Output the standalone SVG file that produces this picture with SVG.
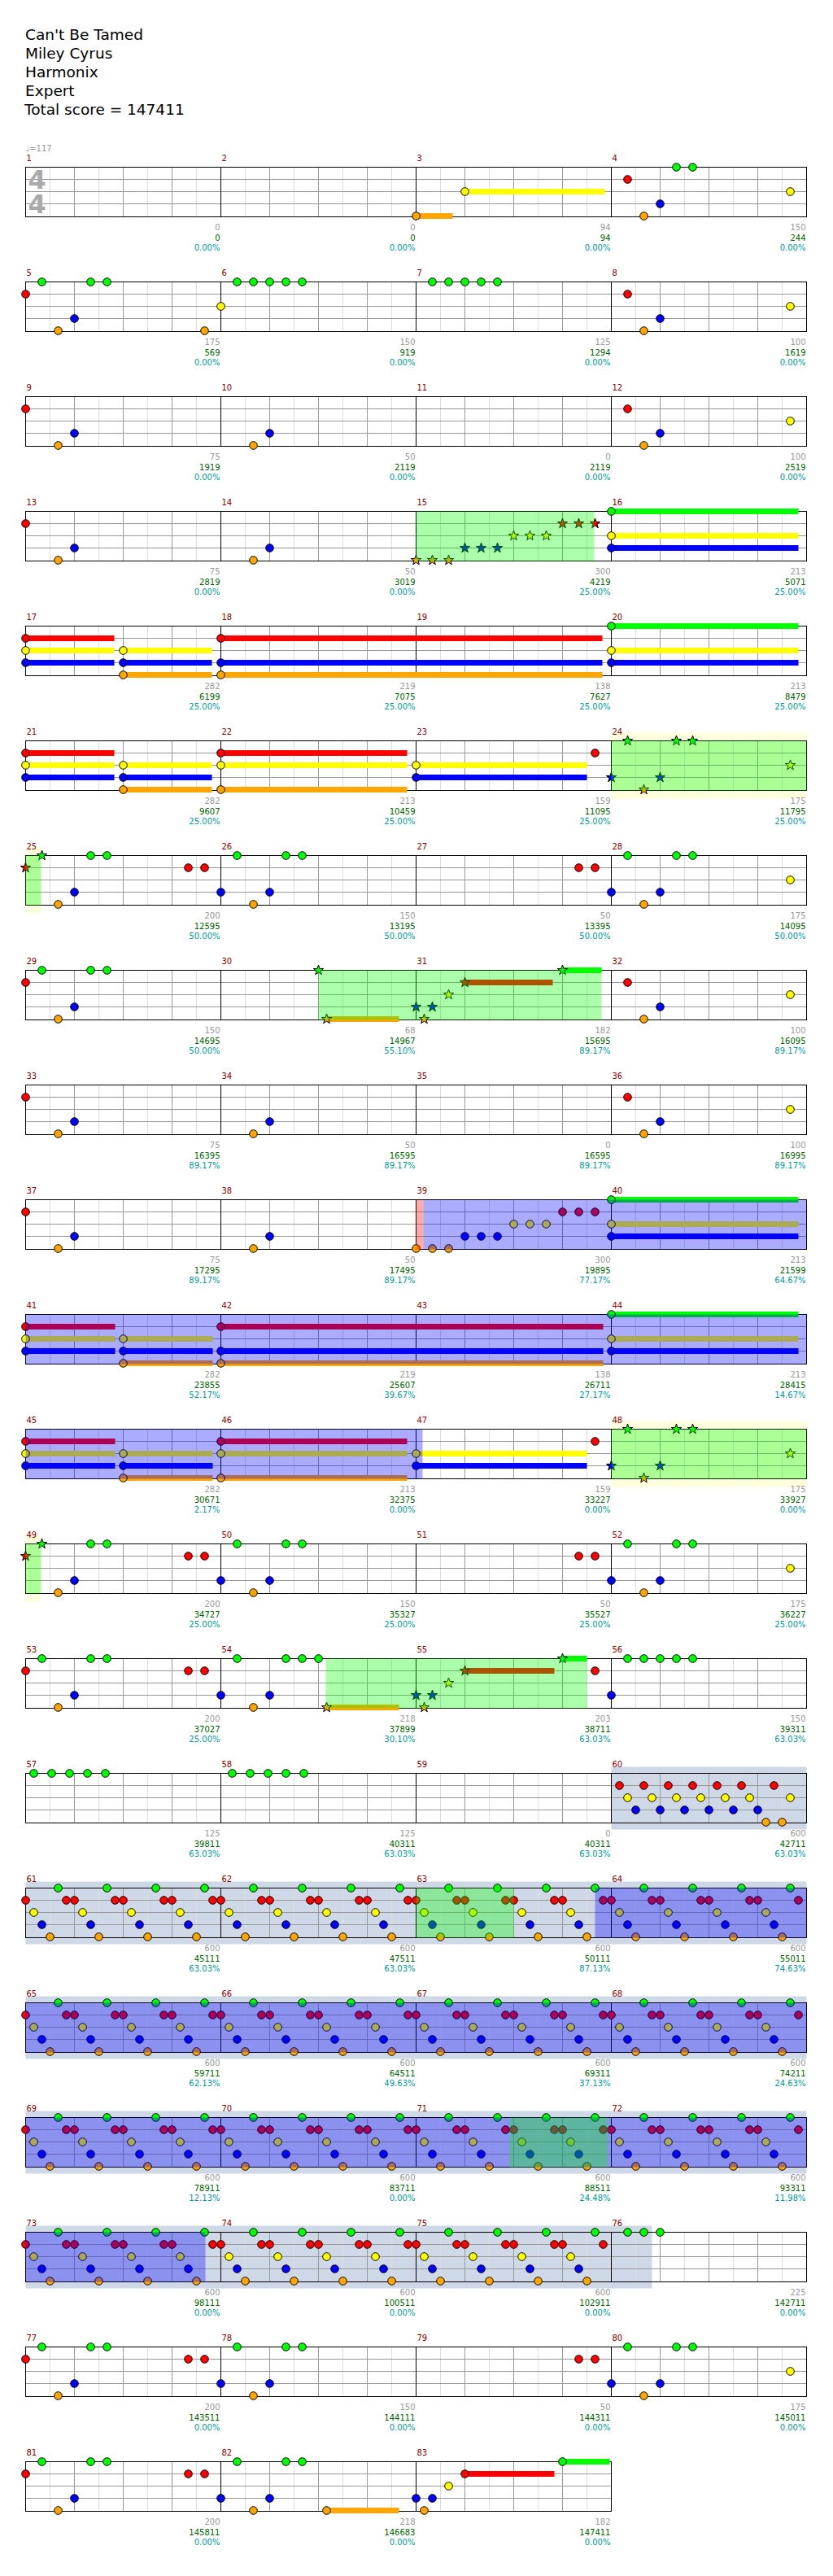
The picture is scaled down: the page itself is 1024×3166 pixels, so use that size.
<svg xmlns="http://www.w3.org/2000/svg" width="1024" height="3166" viewBox="0 0 1024 3166">
<style>
text{font-family:"DejaVu Sans","Liberation Sans",sans-serif}
.ti{font-size:18.5px;fill:#000}
.mn{font-size:10px;fill:#8b0000}
.a,.b,.c{font-size:10px;text-anchor:end}
.a{fill:#999}.b{fill:#006400}.c{fill:#009999}
.tm{font-size:10px;fill:#999}
.ts{font-size:32px;font-weight:bold;fill:#aaa}
.G{fill:#00ff00}.R{fill:#ff0000}.Y{fill:#ffff00}.B{fill:#0000ff}.O{fill:#ffa500}
.vg{fill:#00ff00;fill-opacity:.33}.vb{fill:#0000ff;fill-opacity:.33}.vr{fill:#ff0000;fill-opacity:.33}
.band{fill:#ffffdd}.sol{fill:#cfd8e6}
</style>
<defs>
<circle id="nG" r="4.8" fill="#00ff00" stroke="#000"/>
<circle id="nR" cy="15" r="4.8" fill="#ff0000" stroke="#000"/>
<circle id="nY" cy="30" r="4.8" fill="#ffff00" stroke="#000"/>
<circle id="nB" cy="45" r="4.8" fill="#0000ff" stroke="#000"/>
<circle id="nO" cy="60" r="4.8" fill="#ffa500" stroke="#000"/>
<path id="st" d="M0,-6.5 L1.53,-2.1 L6.18,-2.01 L2.47,0.8 L3.82,5.26 L0,2.6 L-3.82,5.26 L-2.47,0.8 L-6.18,-2.01 L-1.53,-2.1 Z" stroke="#000" stroke-width="1"/>
<use id="sG" href="#st" fill="#00ff00"/>
<use id="sR" href="#st" y="15" fill="#ff0000"/>
<use id="sY" href="#st" y="30" fill="#ffff00"/>
<use id="sB" href="#st" y="45" fill="#0000ff"/>
<use id="sO" href="#st" y="60" fill="#ffa500"/>
<g id="staff4" fill="none">
<path stroke="#ddd" d="M61 0V61M121 0V61M181 0V61M241 0V61M301 0V61M361 0V61M421 0V61M481 0V61M541 0V61M601 0V61M661 0V61M721 0V61M781 0V61M841 0V61M901 0V61M961 0V61"/>
<path stroke="#999" d="M91 0V61M151 0V61M211 0V61M331 0V61M391 0V61M451 0V61M571 0V61M631 0V61M691 0V61M811 0V61M871 0V61M931 0V61M31 15H991M31 30H991M31 45H991"/>
<path stroke="#000" d="M271 0V61M511 0V61M751 0V61"/>
<rect x="31" y="0" width="960" height="61" stroke="#000"/>
</g>
<g id="staff3" fill="none">
<path stroke="#ddd" d="M61 0V61M121 0V61M181 0V61M241 0V61M301 0V61M361 0V61M421 0V61M481 0V61M541 0V61M601 0V61M661 0V61M721 0V61"/>
<path stroke="#999" d="M91 0V61M151 0V61M211 0V61M331 0V61M391 0V61M451 0V61M571 0V61M631 0V61M691 0V61M31 15H751M31 30H751M31 45H751"/>
<path stroke="#000" d="M271 0V61M511 0V61"/>
<rect x="31" y="0" width="720" height="61" stroke="#000"/>
</g>
<g id="beat">
<use href="#nR" x="0"/><use href="#nY" x="10"/><use href="#nB" x="20"/><use href="#nO" x="30"/><use href="#nG" x="40"/><use href="#nR" x="50"/>
</g>
<g id="beat2">
<use href="#nR" x="0"/><use href="#nY" x="10"/><use href="#nB" x="20"/><use href="#nR" x="30"/><use href="#nY" x="40"/><use href="#nB" x="50"/>
</g>
</defs>
<rect width="1024" height="3166" fill="#fff"/>
<g id="title">
<text class="ti" x="31" y="49">Can't Be Tamed</text>
<text class="ti" x="31" y="72">Miley Cyrus</text>
<text class="ti" x="31" y="95">Harmonix</text>
<text class="ti" x="31" y="118">Expert</text>
<text class="ti" x="30" y="141">Total score = 147411</text>
</g>

<g id="row0" transform="translate(0.5,205.5)">
<use href="#staff4"/>
<text class="tm" x="31" y="-20">♩=117</text>
<text class="ts" x="34" y="26">4</text><text class="ts" x="34" y="56">4</text>
<rect class="O" x="511" y="56.5" width="45" height="7"/>
<rect class="Y" x="571" y="26.5" width="172" height="7"/>
<use href="#nO" x="511"/><use href="#nY" x="571"/>
<use href="#nR" x="771"/><use href="#nO" x="791"/><use href="#nB" x="811"/><use href="#nG" x="831"/><use href="#nG" x="851"/><use href="#nY" x="971"/>
<text class="mn" x="32" y="-8">1</text><text class="mn" x="272" y="-8">2</text><text class="mn" x="512" y="-8">3</text><text class="mn" x="752" y="-8">4</text>
<text class="a" x="270" y="77">0</text><text class="b" x="270" y="90">0</text><text class="c" x="270" y="102">0.00%</text>
<text class="a" x="510" y="77">0</text><text class="b" x="510" y="90">0</text><text class="c" x="510" y="102">0.00%</text>
<text class="a" x="750" y="77">94</text><text class="b" x="750" y="90">94</text><text class="c" x="750" y="102">0.00%</text>
<text class="a" x="990" y="77">150</text><text class="b" x="990" y="90">244</text><text class="c" x="990" y="102">0.00%</text>
</g>

<g id="row1" transform="translate(0.5,346.5)">
<use href="#staff4"/>
<use href="#nR" x="31"/><use href="#nG" x="51"/><use href="#nO" x="71"/><use href="#nB" x="91"/><use href="#nG" x="111"/><use href="#nG" x="131"/><use href="#nO" x="251"/>
<use href="#nY" x="271"/><use href="#nG" x="291"/><use href="#nG" x="311"/><use href="#nG" x="331"/><use href="#nG" x="351"/><use href="#nG" x="371"/>
<use href="#nG" x="531"/><use href="#nG" x="551"/><use href="#nG" x="571"/><use href="#nG" x="591"/><use href="#nG" x="611"/>
<use href="#nR" x="771"/><use href="#nO" x="791"/><use href="#nB" x="811"/><use href="#nY" x="971"/>
<text class="mn" x="32" y="-8">5</text><text class="mn" x="272" y="-8">6</text><text class="mn" x="512" y="-8">7</text><text class="mn" x="752" y="-8">8</text>
<text class="a" x="270" y="77">175</text><text class="b" x="270" y="90">569</text><text class="c" x="270" y="102">0.00%</text>
<text class="a" x="510" y="77">150</text><text class="b" x="510" y="90">919</text><text class="c" x="510" y="102">0.00%</text>
<text class="a" x="750" y="77">125</text><text class="b" x="750" y="90">1294</text><text class="c" x="750" y="102">0.00%</text>
<text class="a" x="990" y="77">100</text><text class="b" x="990" y="90">1619</text><text class="c" x="990" y="102">0.00%</text>
</g>

<g id="row2" transform="translate(0.5,487.5)">
<use href="#staff4"/>
<use href="#nR" x="31"/><use href="#nO" x="71"/><use href="#nB" x="91"/>
<use href="#nO" x="311"/><use href="#nB" x="331"/>
<use href="#nR" x="771"/><use href="#nO" x="791"/><use href="#nB" x="811"/><use href="#nY" x="971"/>
<text class="mn" x="32" y="-8">9</text><text class="mn" x="272" y="-8">10</text><text class="mn" x="512" y="-8">11</text><text class="mn" x="752" y="-8">12</text>
<text class="a" x="270" y="77">75</text><text class="b" x="270" y="90">1919</text><text class="c" x="270" y="102">0.00%</text>
<text class="a" x="510" y="77">50</text><text class="b" x="510" y="90">2119</text><text class="c" x="510" y="102">0.00%</text>
<text class="a" x="750" y="77">0</text><text class="b" x="750" y="90">2119</text><text class="c" x="750" y="102">0.00%</text>
<text class="a" x="990" y="77">100</text><text class="b" x="990" y="90">2519</text><text class="c" x="990" y="102">0.00%</text>
</g>

<g id="row3" transform="translate(0.5,628.5)">
<use href="#staff4"/>
<use href="#nR" x="31"/><use href="#nO" x="71"/><use href="#nB" x="91"/>
<use href="#nO" x="311"/><use href="#nB" x="331"/>
<use href="#sO" x="511"/><use href="#sO" x="531"/><use href="#sO" x="551"/><use href="#sB" x="571"/><use href="#sB" x="591"/><use href="#sB" x="611"/><use href="#sY" x="631"/><use href="#sY" x="651"/><use href="#sY" x="671"/><use href="#sR" x="691"/><use href="#sR" x="711"/><use href="#sR" x="731"/>
<rect class="G" x="751" y="-3.5" width="230" height="7"/><rect class="Y" x="751" y="26.5" width="230" height="7"/><rect class="B" x="751" y="41.5" width="230" height="7"/>
<use href="#nG" x="751"/><use href="#nY" x="751"/><use href="#nB" x="751"/>
<rect class="vg" x="511" y="0" width="219" height="61"/>
<text class="mn" x="32" y="-8">13</text><text class="mn" x="272" y="-8">14</text><text class="mn" x="512" y="-8">15</text><text class="mn" x="752" y="-8">16</text>
<text class="a" x="270" y="77">75</text><text class="b" x="270" y="90">2819</text><text class="c" x="270" y="102">0.00%</text>
<text class="a" x="510" y="77">50</text><text class="b" x="510" y="90">3019</text><text class="c" x="510" y="102">0.00%</text>
<text class="a" x="750" y="77">300</text><text class="b" x="750" y="90">4219</text><text class="c" x="750" y="102">25.00%</text>
<text class="a" x="990" y="77">213</text><text class="b" x="990" y="90">5071</text><text class="c" x="990" y="102">25.00%</text>
</g>

<g id="row4" transform="translate(0.5,769.5)">
<use href="#staff4"/>
<rect class="R" x="31" y="11.5" width="109" height="7"/><rect class="Y" x="31" y="26.5" width="109" height="7"/><rect class="B" x="31" y="41.5" width="109" height="7"/>
<rect class="Y" x="151" y="26.5" width="109" height="7"/><rect class="B" x="151" y="41.5" width="109" height="7"/><rect class="O" x="151" y="56.5" width="109" height="7"/>
<rect class="R" x="271" y="11.5" width="469" height="7"/><rect class="B" x="271" y="41.5" width="469" height="7"/><rect class="O" x="271" y="56.5" width="469" height="7"/>
<rect class="G" x="751" y="-3.5" width="230" height="7"/><rect class="Y" x="751" y="26.5" width="230" height="7"/><rect class="B" x="751" y="41.5" width="230" height="7"/>
<use href="#nR" x="31"/><use href="#nY" x="31"/><use href="#nB" x="31"/>
<use href="#nY" x="151"/><use href="#nB" x="151"/><use href="#nO" x="151"/>
<use href="#nR" x="271"/><use href="#nB" x="271"/><use href="#nO" x="271"/>
<use href="#nG" x="751"/><use href="#nY" x="751"/><use href="#nB" x="751"/>
<text class="mn" x="32" y="-8">17</text><text class="mn" x="272" y="-8">18</text><text class="mn" x="512" y="-8">19</text><text class="mn" x="752" y="-8">20</text>
<text class="a" x="270" y="77">282</text><text class="b" x="270" y="90">6199</text><text class="c" x="270" y="102">25.00%</text>
<text class="a" x="510" y="77">219</text><text class="b" x="510" y="90">7075</text><text class="c" x="510" y="102">25.00%</text>
<text class="a" x="750" y="77">138</text><text class="b" x="750" y="90">7627</text><text class="c" x="750" y="102">25.00%</text>
<text class="a" x="990" y="77">213</text><text class="b" x="990" y="90">8479</text><text class="c" x="990" y="102">25.00%</text>
</g>

<g id="row5" transform="translate(0.5,910.5)">
<rect class="band" x="751" y="-10" width="240" height="81"/>
<use href="#staff4"/>
<rect class="R" x="31" y="11.5" width="109" height="7"/><rect class="Y" x="31" y="26.5" width="109" height="7"/><rect class="B" x="31" y="41.5" width="109" height="7"/>
<rect class="Y" x="151" y="26.5" width="109" height="7"/><rect class="B" x="151" y="41.5" width="109" height="7"/><rect class="O" x="151" y="56.5" width="109" height="7"/>
<rect class="R" x="271" y="11.5" width="229" height="7"/><rect class="Y" x="271" y="26.5" width="229" height="7"/><rect class="O" x="271" y="56.5" width="229" height="7"/>
<rect class="Y" x="511" y="26.5" width="210" height="7"/><rect class="B" x="511" y="41.5" width="210" height="7"/>
<use href="#nR" x="31"/><use href="#nY" x="31"/><use href="#nB" x="31"/>
<use href="#nY" x="151"/><use href="#nB" x="151"/><use href="#nO" x="151"/>
<use href="#nR" x="271"/><use href="#nY" x="271"/><use href="#nO" x="271"/>
<use href="#nY" x="511"/><use href="#nB" x="511"/><use href="#nR" x="731"/>
<use href="#sB" x="751"/><use href="#sG" x="771"/><use href="#sO" x="791"/><use href="#sB" x="811"/><use href="#sG" x="831"/><use href="#sG" x="851"/><use href="#sY" x="971"/>
<rect class="vg" x="751" y="0" width="240" height="61"/>
<text class="mn" x="32" y="-8">21</text><text class="mn" x="272" y="-8">22</text><text class="mn" x="512" y="-8">23</text><text class="mn" x="752" y="-8">24</text>
<text class="a" x="270" y="77">282</text><text class="b" x="270" y="90">9607</text><text class="c" x="270" y="102">25.00%</text>
<text class="a" x="510" y="77">213</text><text class="b" x="510" y="90">10459</text><text class="c" x="510" y="102">25.00%</text>
<text class="a" x="750" y="77">159</text><text class="b" x="750" y="90">11095</text><text class="c" x="750" y="102">25.00%</text>
<text class="a" x="990" y="77">175</text><text class="b" x="990" y="90">11795</text><text class="c" x="990" y="102">25.00%</text>
</g>

<g id="row6" transform="translate(0.5,1051.5)">
<rect class="band" x="31" y="-10" width="19" height="81"/>
<use href="#staff4"/>
<use href="#sR" x="31"/><use href="#sG" x="51"/><use href="#nO" x="71"/><use href="#nB" x="91"/><use href="#nG" x="111"/><use href="#nG" x="131"/><use href="#nR" x="231"/><use href="#nR" x="251"/>
<use href="#nB" x="271"/><use href="#nG" x="291"/><use href="#nO" x="311"/><use href="#nB" x="331"/><use href="#nG" x="351"/><use href="#nG" x="371"/>
<use href="#nR" x="711"/><use href="#nR" x="731"/>
<use href="#nB" x="751"/><use href="#nG" x="771"/><use href="#nO" x="791"/><use href="#nB" x="811"/><use href="#nG" x="831"/><use href="#nG" x="851"/><use href="#nY" x="971"/>
<rect class="vg" x="31" y="0" width="19" height="61"/>
<text class="mn" x="32" y="-8">25</text><text class="mn" x="272" y="-8">26</text><text class="mn" x="512" y="-8">27</text><text class="mn" x="752" y="-8">28</text>
<text class="a" x="270" y="77">200</text><text class="b" x="270" y="90">12595</text><text class="c" x="270" y="102">50.00%</text>
<text class="a" x="510" y="77">150</text><text class="b" x="510" y="90">13195</text><text class="c" x="510" y="102">50.00%</text>
<text class="a" x="750" y="77">50</text><text class="b" x="750" y="90">13395</text><text class="c" x="750" y="102">50.00%</text>
<text class="a" x="990" y="77">175</text><text class="b" x="990" y="90">14095</text><text class="c" x="990" y="102">50.00%</text>
</g>

<g id="row7" transform="translate(0.5,1192.5)">
<use href="#staff4"/>
<use href="#nR" x="31"/><use href="#nG" x="51"/><use href="#nO" x="71"/><use href="#nB" x="91"/><use href="#nG" x="111"/><use href="#nG" x="131"/>
<rect class="O" x="401" y="56.5" width="89" height="7"/><rect class="R" x="571" y="11.5" width="108" height="7"/><rect class="G" x="691" y="-3.5" width="48" height="7"/>
<use href="#sG" x="391"/><use href="#sO" x="401"/>
<use href="#sB" x="511"/><use href="#sO" x="521"/><use href="#sB" x="531"/><use href="#sY" x="551"/><use href="#sR" x="571"/><use href="#sG" x="691"/>
<use href="#nR" x="771"/><use href="#nO" x="791"/><use href="#nB" x="811"/><use href="#nY" x="971"/>
<rect class="vg" x="391" y="0" width="348" height="61"/>
<text class="mn" x="32" y="-8">29</text><text class="mn" x="272" y="-8">30</text><text class="mn" x="512" y="-8">31</text><text class="mn" x="752" y="-8">32</text>
<text class="a" x="270" y="77">150</text><text class="b" x="270" y="90">14695</text><text class="c" x="270" y="102">50.00%</text>
<text class="a" x="510" y="77">68</text><text class="b" x="510" y="90">14967</text><text class="c" x="510" y="102">55.10%</text>
<text class="a" x="750" y="77">182</text><text class="b" x="750" y="90">15695</text><text class="c" x="750" y="102">89.17%</text>
<text class="a" x="990" y="77">100</text><text class="b" x="990" y="90">16095</text><text class="c" x="990" y="102">89.17%</text>
</g>

<g id="row8" transform="translate(0.5,1333.5)">
<use href="#staff4"/>
<use href="#nR" x="31"/><use href="#nO" x="71"/><use href="#nB" x="91"/>
<use href="#nO" x="311"/><use href="#nB" x="331"/>
<use href="#nR" x="771"/><use href="#nO" x="791"/><use href="#nB" x="811"/><use href="#nY" x="971"/>
<text class="mn" x="32" y="-8">33</text><text class="mn" x="272" y="-8">34</text><text class="mn" x="512" y="-8">35</text><text class="mn" x="752" y="-8">36</text>
<text class="a" x="270" y="77">75</text><text class="b" x="270" y="90">16395</text><text class="c" x="270" y="102">89.17%</text>
<text class="a" x="510" y="77">50</text><text class="b" x="510" y="90">16595</text><text class="c" x="510" y="102">89.17%</text>
<text class="a" x="750" y="77">0</text><text class="b" x="750" y="90">16595</text><text class="c" x="750" y="102">89.17%</text>
<text class="a" x="990" y="77">100</text><text class="b" x="990" y="90">16995</text><text class="c" x="990" y="102">89.17%</text>
</g>

<g id="row9" transform="translate(0.5,1474.5)">
<use href="#staff4"/>
<use href="#nR" x="31"/><use href="#nO" x="71"/><use href="#nB" x="91"/>
<use href="#nO" x="311"/><use href="#nB" x="331"/>
<use href="#nO" x="511"/><use href="#nO" x="531"/><use href="#nO" x="551"/><use href="#nB" x="571"/><use href="#nB" x="591"/><use href="#nB" x="611"/><use href="#nY" x="631"/><use href="#nY" x="651"/><use href="#nY" x="671"/><use href="#nR" x="691"/><use href="#nR" x="711"/><use href="#nR" x="731"/>
<rect class="G" x="751" y="-3.5" width="230" height="7"/><rect class="Y" x="751" y="26.5" width="230" height="7"/><rect class="B" x="751" y="41.5" width="230" height="7"/>
<use href="#nG" x="751"/><use href="#nY" x="751"/><use href="#nB" x="751"/>
<rect class="vr" x="511" y="0" width="9" height="61"/><rect class="vb" x="520" y="0" width="471" height="61"/>
<text class="mn" x="32" y="-8">37</text><text class="mn" x="272" y="-8">38</text><text class="mn" x="512" y="-8">39</text><text class="mn" x="752" y="-8">40</text>
<text class="a" x="270" y="77">75</text><text class="b" x="270" y="90">17295</text><text class="c" x="270" y="102">89.17%</text>
<text class="a" x="510" y="77">50</text><text class="b" x="510" y="90">17495</text><text class="c" x="510" y="102">89.17%</text>
<text class="a" x="750" y="77">300</text><text class="b" x="750" y="90">19895</text><text class="c" x="750" y="102">77.17%</text>
<text class="a" x="990" y="77">213</text><text class="b" x="990" y="90">21599</text><text class="c" x="990" y="102">64.67%</text>
</g>

<g id="row10" transform="translate(0.5,1615.5)">
<use href="#staff4"/>
<rect class="R" x="31" y="11.5" width="110" height="7"/><rect class="Y" x="31" y="26.5" width="110" height="7"/><rect class="B" x="31" y="41.5" width="110" height="7"/>
<rect class="Y" x="151" y="26.5" width="110" height="7"/><rect class="B" x="151" y="41.5" width="110" height="7"/><rect class="O" x="151" y="56.5" width="110" height="7"/>
<rect class="R" x="271" y="11.5" width="470" height="7"/><rect class="B" x="271" y="41.5" width="470" height="7"/><rect class="O" x="271" y="56.5" width="470" height="7"/>
<rect class="G" x="751" y="-3.5" width="230" height="7"/><rect class="Y" x="751" y="26.5" width="230" height="7"/><rect class="B" x="751" y="41.5" width="230" height="7"/>
<use href="#nR" x="31"/><use href="#nY" x="31"/><use href="#nB" x="31"/>
<use href="#nY" x="151"/><use href="#nB" x="151"/><use href="#nO" x="151"/>
<use href="#nR" x="271"/><use href="#nB" x="271"/><use href="#nO" x="271"/>
<use href="#nG" x="751"/><use href="#nY" x="751"/><use href="#nB" x="751"/>
<rect class="vb" x="31" y="0" width="960" height="61"/>
<text class="mn" x="32" y="-8">41</text><text class="mn" x="272" y="-8">42</text><text class="mn" x="512" y="-8">43</text><text class="mn" x="752" y="-8">44</text>
<text class="a" x="270" y="77">282</text><text class="b" x="270" y="90">23855</text><text class="c" x="270" y="102">52.17%</text>
<text class="a" x="510" y="77">219</text><text class="b" x="510" y="90">25607</text><text class="c" x="510" y="102">39.67%</text>
<text class="a" x="750" y="77">138</text><text class="b" x="750" y="90">26711</text><text class="c" x="750" y="102">27.17%</text>
<text class="a" x="990" y="77">213</text><text class="b" x="990" y="90">28415</text><text class="c" x="990" y="102">14.67%</text>
</g>

<g id="row11" transform="translate(0.5,1756.5)">
<rect class="band" x="751" y="-10" width="240" height="81"/>
<use href="#staff4"/>
<rect class="R" x="31" y="11.5" width="110" height="7"/><rect class="Y" x="31" y="26.5" width="110" height="7"/><rect class="B" x="31" y="41.5" width="110" height="7"/>
<rect class="Y" x="151" y="26.5" width="110" height="7"/><rect class="B" x="151" y="41.5" width="110" height="7"/><rect class="O" x="151" y="56.5" width="110" height="7"/>
<rect class="R" x="271" y="11.5" width="229" height="7"/><rect class="Y" x="271" y="26.5" width="229" height="7"/><rect class="O" x="271" y="56.5" width="229" height="7"/>
<rect class="Y" x="511" y="26.5" width="210" height="7"/><rect class="B" x="511" y="41.5" width="210" height="7"/>
<use href="#nR" x="31"/><use href="#nY" x="31"/><use href="#nB" x="31"/>
<use href="#nY" x="151"/><use href="#nB" x="151"/><use href="#nO" x="151"/>
<use href="#nR" x="271"/><use href="#nY" x="271"/><use href="#nO" x="271"/>
<use href="#nY" x="511"/><use href="#nB" x="511"/><use href="#nR" x="731"/>
<use href="#sB" x="751"/><use href="#sG" x="771"/><use href="#sO" x="791"/><use href="#sB" x="811"/><use href="#sG" x="831"/><use href="#sG" x="851"/><use href="#sY" x="971"/>
<rect class="vb" x="31" y="0" width="488" height="61"/>
<rect class="vg" x="751" y="0" width="240" height="61"/>
<text class="mn" x="32" y="-8">45</text><text class="mn" x="272" y="-8">46</text><text class="mn" x="512" y="-8">47</text><text class="mn" x="752" y="-8">48</text>
<text class="a" x="270" y="77">282</text><text class="b" x="270" y="90">30671</text><text class="c" x="270" y="102">2.17%</text>
<text class="a" x="510" y="77">213</text><text class="b" x="510" y="90">32375</text><text class="c" x="510" y="102">0.00%</text>
<text class="a" x="750" y="77">159</text><text class="b" x="750" y="90">33227</text><text class="c" x="750" y="102">0.00%</text>
<text class="a" x="990" y="77">175</text><text class="b" x="990" y="90">33927</text><text class="c" x="990" y="102">0.00%</text>
</g>

<g id="row12" transform="translate(0.5,1897.5)">
<rect class="band" x="31" y="-10" width="19" height="81"/>
<use href="#staff4"/>
<use href="#sR" x="31"/><use href="#sG" x="51"/><use href="#nO" x="71"/><use href="#nB" x="91"/><use href="#nG" x="111"/><use href="#nG" x="131"/><use href="#nR" x="231"/><use href="#nR" x="251"/>
<use href="#nB" x="271"/><use href="#nG" x="291"/><use href="#nO" x="311"/><use href="#nB" x="331"/><use href="#nG" x="351"/><use href="#nG" x="371"/>
<use href="#nR" x="711"/><use href="#nR" x="731"/>
<use href="#nB" x="751"/><use href="#nG" x="771"/><use href="#nO" x="791"/><use href="#nB" x="811"/><use href="#nG" x="831"/><use href="#nG" x="851"/><use href="#nY" x="971"/>
<rect class="vg" x="31" y="0" width="19" height="61"/>
<text class="mn" x="32" y="-8">49</text><text class="mn" x="272" y="-8">50</text><text class="mn" x="512" y="-8">51</text><text class="mn" x="752" y="-8">52</text>
<text class="a" x="270" y="77">200</text><text class="b" x="270" y="90">34727</text><text class="c" x="270" y="102">25.00%</text>
<text class="a" x="510" y="77">150</text><text class="b" x="510" y="90">35327</text><text class="c" x="510" y="102">25.00%</text>
<text class="a" x="750" y="77">50</text><text class="b" x="750" y="90">35527</text><text class="c" x="750" y="102">25.00%</text>
<text class="a" x="990" y="77">175</text><text class="b" x="990" y="90">36227</text><text class="c" x="990" y="102">25.00%</text>
</g>

<g id="row13" transform="translate(0.5,2038.5)">
<use href="#staff4"/>
<use href="#nR" x="31"/><use href="#nG" x="51"/><use href="#nO" x="71"/><use href="#nB" x="91"/><use href="#nG" x="111"/><use href="#nG" x="131"/><use href="#nR" x="231"/><use href="#nR" x="251"/>
<use href="#nB" x="271"/><use href="#nG" x="291"/><use href="#nO" x="311"/><use href="#nB" x="331"/><use href="#nG" x="351"/><use href="#nG" x="371"/><use href="#nG" x="391"/>
<rect class="O" x="401" y="56.5" width="89" height="7"/><rect class="R" x="571" y="11.5" width="110" height="7"/><rect class="G" x="691" y="-3.5" width="30" height="7"/>
<use href="#sO" x="401"/>
<use href="#sB" x="511"/><use href="#sO" x="521"/><use href="#sB" x="531"/><use href="#sY" x="551"/><use href="#sR" x="571"/><use href="#sG" x="691"/>
<use href="#nR" x="731"/>
<use href="#nB" x="751"/><use href="#nG" x="771"/><use href="#nG" x="791"/><use href="#nG" x="811"/><use href="#nG" x="831"/><use href="#nG" x="851"/>
<rect class="vg" x="400" y="0" width="321" height="61"/>
<text class="mn" x="32" y="-8">53</text><text class="mn" x="272" y="-8">54</text><text class="mn" x="512" y="-8">55</text><text class="mn" x="752" y="-8">56</text>
<text class="a" x="270" y="77">200</text><text class="b" x="270" y="90">37027</text><text class="c" x="270" y="102">25.00%</text>
<text class="a" x="510" y="77">218</text><text class="b" x="510" y="90">37899</text><text class="c" x="510" y="102">30.10%</text>
<text class="a" x="750" y="77">203</text><text class="b" x="750" y="90">38711</text><text class="c" x="750" y="102">63.03%</text>
<text class="a" x="990" y="77">150</text><text class="b" x="990" y="90">39311</text><text class="c" x="990" y="102">63.03%</text>
</g>

<g id="row14" transform="translate(0.5,2179.5)">
<rect class="sol" x="751" y="-8" width="240" height="77"/>
<use href="#staff4"/>
<use href="#nG" x="41"/><use href="#nG" x="63"/><use href="#nG" x="85"/><use href="#nG" x="107"/><use href="#nG" x="129"/>
<use href="#nG" x="285"/><use href="#nG" x="307"/><use href="#nG" x="329"/><use href="#nG" x="351"/><use href="#nG" x="373"/>
<use href="#beat2" x="761"/><use href="#beat2" x="821"/><use href="#beat2" x="881"/>
<use href="#nO" x="941"/><use href="#nO" x="961"/><use href="#nR" x="951"/><use href="#nY" x="971"/>
<text class="mn" x="32" y="-8">57</text><text class="mn" x="272" y="-8">58</text><text class="mn" x="512" y="-8">59</text><text class="mn" x="752" y="-8">60</text>
<text class="a" x="270" y="77">125</text><text class="b" x="270" y="90">39811</text><text class="c" x="270" y="102">63.03%</text>
<text class="a" x="510" y="77">125</text><text class="b" x="510" y="90">40311</text><text class="c" x="510" y="102">63.03%</text>
<text class="a" x="750" y="77">0</text><text class="b" x="750" y="90">40311</text><text class="c" x="750" y="102">63.03%</text>
<text class="a" x="990" y="77">600</text><text class="b" x="990" y="90">42711</text><text class="c" x="990" y="102">63.03%</text>
</g>
<g id="row15" transform="translate(0.5,2320.5)">
<rect class="sol" x="31" y="-8" width="960" height="77"/>
<use href="#staff4"/>
<use href="#beat" x="31"/><use href="#beat" x="91"/><use href="#beat" x="151"/><use href="#beat" x="211"/>
<use href="#beat" x="271"/><use href="#beat" x="331"/><use href="#beat" x="391"/><use href="#beat" x="451"/>
<use href="#beat" x="511"/><use href="#beat" x="571"/><use href="#beat" x="631"/><use href="#beat" x="691"/>
<use href="#beat" x="751"/><use href="#beat" x="811"/><use href="#beat" x="871"/><use href="#beat" x="931"/>
<rect class="vg" x="511" y="0" width="120" height="61"/><rect class="vb" x="731" y="0" width="260" height="61"/>
<text class="mn" x="32" y="-8">61</text><text class="mn" x="272" y="-8">62</text><text class="mn" x="512" y="-8">63</text><text class="mn" x="752" y="-8">64</text>
<text class="a" x="270" y="77">600</text><text class="b" x="270" y="90">45111</text><text class="c" x="270" y="102">63.03%</text>
<text class="a" x="510" y="77">600</text><text class="b" x="510" y="90">47511</text><text class="c" x="510" y="102">63.03%</text>
<text class="a" x="750" y="77">600</text><text class="b" x="750" y="90">50111</text><text class="c" x="750" y="102">87.13%</text>
<text class="a" x="990" y="77">600</text><text class="b" x="990" y="90">55011</text><text class="c" x="990" y="102">74.63%</text>
</g>
<g id="row16" transform="translate(0.5,2461.5)">
<rect class="sol" x="31" y="-8" width="960" height="77"/>
<use href="#staff4"/>
<use href="#beat" x="31"/><use href="#beat" x="91"/><use href="#beat" x="151"/><use href="#beat" x="211"/>
<use href="#beat" x="271"/><use href="#beat" x="331"/><use href="#beat" x="391"/><use href="#beat" x="451"/>
<use href="#beat" x="511"/><use href="#beat" x="571"/><use href="#beat" x="631"/><use href="#beat" x="691"/>
<use href="#beat" x="751"/><use href="#beat" x="811"/><use href="#beat" x="871"/><use href="#beat" x="931"/>
<rect class="vb" x="31" y="0" width="960" height="61"/>
<text class="mn" x="32" y="-8">65</text><text class="mn" x="272" y="-8">66</text><text class="mn" x="512" y="-8">67</text><text class="mn" x="752" y="-8">68</text>
<text class="a" x="270" y="77">600</text><text class="b" x="270" y="90">59711</text><text class="c" x="270" y="102">62.13%</text>
<text class="a" x="510" y="77">600</text><text class="b" x="510" y="90">64511</text><text class="c" x="510" y="102">49.63%</text>
<text class="a" x="750" y="77">600</text><text class="b" x="750" y="90">69311</text><text class="c" x="750" y="102">37.13%</text>
<text class="a" x="990" y="77">600</text><text class="b" x="990" y="90">74211</text><text class="c" x="990" y="102">24.63%</text>
</g>
<g id="row17" transform="translate(0.5,2602.5)">
<rect class="sol" x="31" y="-8" width="960" height="77"/>
<use href="#staff4"/>
<use href="#beat" x="31"/><use href="#beat" x="91"/><use href="#beat" x="151"/><use href="#beat" x="211"/>
<use href="#beat" x="271"/><use href="#beat" x="331"/><use href="#beat" x="391"/><use href="#beat" x="451"/>
<use href="#beat" x="511"/><use href="#beat" x="571"/><use href="#beat" x="631"/><use href="#beat" x="691"/>
<use href="#beat" x="751"/><use href="#beat" x="811"/><use href="#beat" x="871"/><use href="#beat" x="931"/>
<rect class="vb" x="31" y="0" width="960" height="61"/><rect class="vg" x="626" y="0" width="121" height="61"/>
<text class="mn" x="32" y="-8">69</text><text class="mn" x="272" y="-8">70</text><text class="mn" x="512" y="-8">71</text><text class="mn" x="752" y="-8">72</text>
<text class="a" x="270" y="77">600</text><text class="b" x="270" y="90">78911</text><text class="c" x="270" y="102">12.13%</text>
<text class="a" x="510" y="77">600</text><text class="b" x="510" y="90">83711</text><text class="c" x="510" y="102">0.00%</text>
<text class="a" x="750" y="77">600</text><text class="b" x="750" y="90">88511</text><text class="c" x="750" y="102">24.48%</text>
<text class="a" x="990" y="77">600</text><text class="b" x="990" y="90">93311</text><text class="c" x="990" y="102">11.98%</text>
</g>
<g id="row18" transform="translate(0.5,2743.5)">
<rect class="sol" x="31" y="-8" width="770" height="77"/>
<use href="#staff4"/>
<use href="#beat" x="31"/><use href="#beat" x="91"/><use href="#beat" x="151"/><use href="#beat" x="211"/>
<use href="#beat" x="271"/><use href="#beat" x="331"/><use href="#beat" x="391"/><use href="#beat" x="451"/>
<use href="#beat" x="511"/><use href="#beat" x="571"/><use href="#beat" x="631"/><use href="#beat" x="691"/>
<use href="#nG" x="771"/><use href="#nG" x="791"/><use href="#nG" x="811"/>
<rect class="vb" x="31" y="0" width="221" height="61"/>
<text class="mn" x="32" y="-8">73</text><text class="mn" x="272" y="-8">74</text><text class="mn" x="512" y="-8">75</text><text class="mn" x="752" y="-8">76</text>
<text class="a" x="270" y="77">600</text><text class="b" x="270" y="90">98111</text><text class="c" x="270" y="102">0.00%</text>
<text class="a" x="510" y="77">600</text><text class="b" x="510" y="90">100511</text><text class="c" x="510" y="102">0.00%</text>
<text class="a" x="750" y="77">600</text><text class="b" x="750" y="90">102911</text><text class="c" x="750" y="102">0.00%</text>
<text class="a" x="990" y="77">225</text><text class="b" x="990" y="90">142711</text><text class="c" x="990" y="102">0.00%</text>
</g>
<g id="row19" transform="translate(0.5,2884.5)">
<use href="#staff4"/>
<use href="#nR" x="31"/><use href="#nG" x="51"/><use href="#nO" x="71"/><use href="#nB" x="91"/><use href="#nG" x="111"/><use href="#nG" x="131"/><use href="#nR" x="231"/><use href="#nR" x="251"/>
<use href="#nB" x="271"/><use href="#nG" x="291"/><use href="#nO" x="311"/><use href="#nB" x="331"/><use href="#nG" x="351"/><use href="#nG" x="371"/>
<use href="#nR" x="711"/><use href="#nR" x="731"/>
<use href="#nB" x="751"/><use href="#nG" x="771"/><use href="#nO" x="791"/><use href="#nB" x="811"/><use href="#nG" x="831"/><use href="#nG" x="851"/><use href="#nY" x="971"/>
<text class="mn" x="32" y="-8">77</text><text class="mn" x="272" y="-8">78</text><text class="mn" x="512" y="-8">79</text><text class="mn" x="752" y="-8">80</text>
<text class="a" x="270" y="77">200</text><text class="b" x="270" y="90">143511</text><text class="c" x="270" y="102">0.00%</text>
<text class="a" x="510" y="77">150</text><text class="b" x="510" y="90">144111</text><text class="c" x="510" y="102">0.00%</text>
<text class="a" x="750" y="77">50</text><text class="b" x="750" y="90">144311</text><text class="c" x="750" y="102">0.00%</text>
<text class="a" x="990" y="77">175</text><text class="b" x="990" y="90">145011</text><text class="c" x="990" y="102">0.00%</text>
</g>
<g id="row20" transform="translate(0.5,3025.5)">
<use href="#staff3"/>
<use href="#nR" x="31"/><use href="#nG" x="51"/><use href="#nO" x="71"/><use href="#nB" x="91"/><use href="#nG" x="111"/><use href="#nG" x="131"/><use href="#nR" x="231"/><use href="#nR" x="251"/>
<use href="#nB" x="271"/><use href="#nG" x="291"/><use href="#nO" x="311"/><use href="#nB" x="331"/><use href="#nG" x="351"/><use href="#nG" x="371"/>
<rect class="O" x="401" y="56.5" width="89" height="7"/><rect class="R" x="571" y="11.5" width="110" height="7"/><rect class="G" x="691" y="-3.5" width="58" height="7"/>
<use href="#nO" x="401"/>
<use href="#nB" x="511"/><use href="#nO" x="521"/><use href="#nB" x="531"/><use href="#nY" x="551"/><use href="#nR" x="571"/><use href="#nG" x="691"/>
<text class="mn" x="32" y="-8">81</text><text class="mn" x="272" y="-8">82</text><text class="mn" x="512" y="-8">83</text>
<text class="a" x="270" y="77">200</text><text class="b" x="270" y="90">145811</text><text class="c" x="270" y="102">0.00%</text>
<text class="a" x="510" y="77">218</text><text class="b" x="510" y="90">146683</text><text class="c" x="510" y="102">0.00%</text>
<text class="a" x="750" y="77">182</text><text class="b" x="750" y="90">147411</text><text class="c" x="750" y="102">0.00%</text>
</g>
</svg>
